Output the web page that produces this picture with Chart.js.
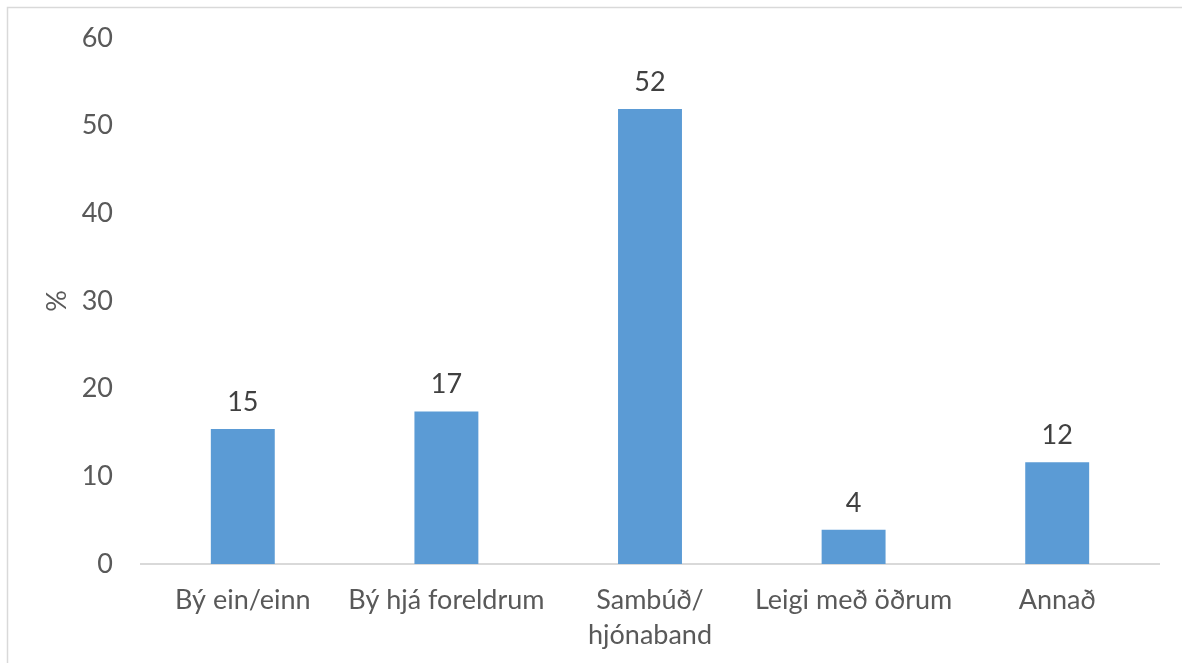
<!DOCTYPE html>
<html>
<head>
<meta charset="utf-8">
<script src="https://cdn.jsdelivr.net/npm/chart.js@4.4.0/dist/chart.umd.min.js"></script>
<style>
  html, body { margin: 0; padding: 0; background: #ffffff; }
  #wrap { position: relative; width: 1182px; height: 663px; }
</style>
</head>
<body>
<div id="wrap"><canvas id="c" width="1182" height="663"></canvas></div>
<script>
const categories = ['Bý ein/einn', 'Bý hjá foreldrum', ['Sambúð/', 'hjónaband'], 'Leigi með öðrum', 'Annað'];
const values = [15.4, 17.4, 51.9, 3.9, 11.6];
const yTicks = [0, 10, 20, 30, 40, 50, 60];
const yTitle = '%';

const FONT = 'Lato, "Open Sans", sans-serif';

const frame = {
  id: 'frame',
  beforeDraw(chart) {
    const ctx = chart.ctx;
    ctx.save();
    ctx.fillStyle = '#ffffff';
    ctx.fillRect(0, 0, chart.width, chart.height);
    ctx.strokeStyle = '#D9D9D9';
    ctx.lineWidth = 1.5;
    ctx.strokeRect(7.5, 7.5, chart.width + 20, chart.height + 20);
    ctx.restore();
  }
};

const valueLabels = {
  id: 'valueLabels',
  afterDatasetsDraw(chart) {
    const ctx = chart.ctx;
    const meta = chart.getDatasetMeta(0);
    ctx.save();
    ctx.font = '27px ' + FONT;
    ctx.fillStyle = '#404040';
    ctx.textAlign = 'center';
    ctx.textBaseline = 'alphabetic';
    meta.data.forEach((bar, i) => {
      ctx.fillText(String(Math.round(values[i])), bar.x, bar.y - 18);
    });
    ctx.restore();
  }
};

new Chart(document.getElementById('c'), {
  type: 'bar',
  data: {
    labels: categories,
    datasets: [{
      data: values,
      backgroundColor: '#5B9BD5',
      borderWidth: 0,
      categoryPercentage: 1,
      barPercentage: 0.314
    }]
  },
  options: {
    responsive: false,
    animation: false,
    events: [],
    layout: { padding: { left: 0, right: 23, top: 38, bottom: 0 } },
    plugins: { legend: { display: false }, tooltip: { enabled: false } },
    scales: {
      x: {
        grid: { display: false, drawTicks: false },
        border: { display: true, color: '#D9D9D9', width: 2 },
        ticks: {
          color: '#595959',
          font: { family: FONT, size: 27, lineHeight: 1.3 },
          padding: 19,
          maxRotation: 0,
          autoSkip: false
        },
        afterFit(scale) { scale.height = 99; }
      },
      y: {
        min: 0,
        max: 60,
        afterBuildTicks(scale) { scale.ticks = yTicks.map(v => ({ value: v })); },
        grid: { display: false, drawTicks: false },
        border: { display: false },
        ticks: {
          color: '#595959',
          font: { family: FONT, size: 27 },
          padding: 28
        },
        title: {
          display: true,
          text: yTitle,
          color: '#595959',
          font: { family: FONT, size: 27 },
          padding: { top: 41, bottom: 0 }
        },
        afterFit(scale) { scale.width = 141; scale.paddingTop = 0; }
      }
    }
  },
  plugins: [frame, valueLabels]
});
</script>
</body>
</html>
